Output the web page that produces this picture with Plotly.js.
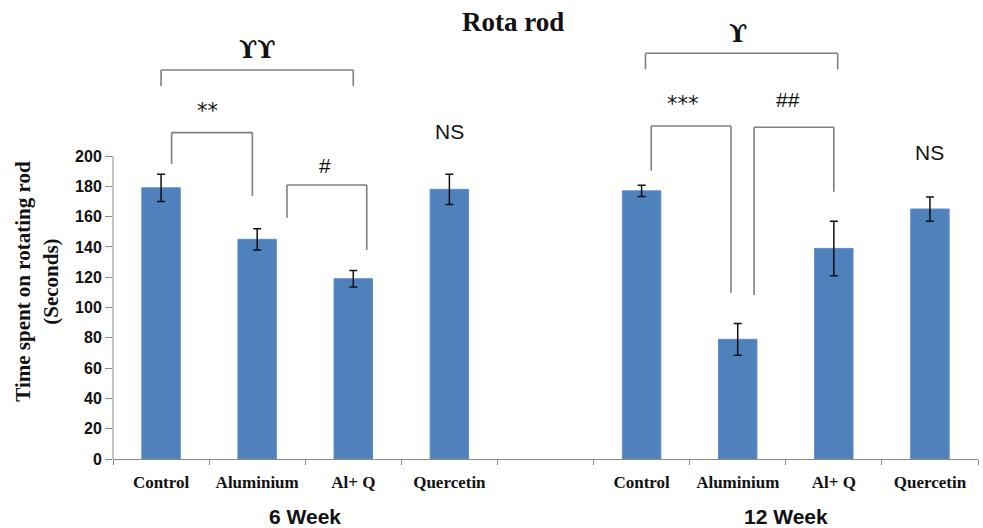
<!DOCTYPE html>
<html><head><meta charset="utf-8">
<script src="https://cdn.plot.ly/plotly-3.0.1.min.js"></script>
<style>body{margin:0;background:#fff}#c{width:983px;height:528px}</style>
</head><body><div id="c"></div>
<script>
const categories = ['Control', 'Aluminium', 'Al+ Q', 'Quercetin'];
const groups = ['6 Week', '12 Week'];
const week6 = [179, 145, 119, 178];
const week6Err = [9, 7, 5.5, 10];
const week12 = [177, 79, 139, 165];
const week12Err = [3.7, 10.5, 18, 8];
const yTicks = [0, 20, 40, 60, 80, 100, 120, 140, 160, 180, 200];

const x6 = categories.map((c, i) => i);
const x12 = categories.map((c, i) => i + 5);
const blue = '#4F81BD';
const grey = '#8a8a8a';
const br = '#7f7f7f';

const errStyle = (arr) => ({type: 'data', array: arr, visible: true, color: '#111', thickness: 1.5, width: 4});
const traces = [
  {type: 'bar', x: x6, y: week6, error_y: errStyle(week6Err), marker: {color: blue, line: {color: '#5b8cc8', width: 1}}, width: 0.4, hoverinfo: 'y'},
  {type: 'bar', x: x12, y: week12, error_y: errStyle(week12Err), marker: {color: blue, line: {color: '#5b8cc8', width: 1}}, width: 0.4, hoverinfo: 'y'}
];

function bracket(xa, xb, ytop, ya, yb) {
  return [
    {type: 'line', xref: 'x', yref: 'y', x0: xa, x1: xb, y0: ytop, y1: ytop, line: {color: br, width: 1.6}},
    {type: 'line', xref: 'x', yref: 'y', x0: xa, x1: xa, y0: ytop, y1: ya, line: {color: br, width: 1.6}},
    {type: 'line', xref: 'x', yref: 'y', x0: xb, x1: xb, y0: ytop, y1: yb, line: {color: br, width: 1.6}}
  ];
}
const shapes = [].concat(
  [{type: 'line', xref: 'paper', yref: 'y', x0: 0, x1: 0, y0: 0, y1: 200, line: {color: grey, width: 1}}],
  bracket(0, 2.0, 256.8, 246.2, 246.2),
  bracket(0.11, 0.95, 215.4, 194.7, 173.6),
  bracket(1.31, 2.14, 180.9, 159.3, 138),
  bracket(5.04, 7.04, 267.8, 257.2, 257.2),
  bracket(5.1, 5.93, 219.8, 190.3, 109.8),
  bracket(6.17, 7.0, 219, 108.3, 176.4)
);

const sans = 'Liberation Sans, Arial, sans-serif';
const starF = 'DejaVu Sans, sans-serif';
const serif = 'Liberation Serif, Times New Roman, serif';
const ups = 'DejaVu Serif, serif';
const annT = (text, x, y, size, fam, bold) => ({text: bold ? '<b>' + text + '</b>' : text, x: x, y: y, xref: 'x', yref: 'y', showarrow: false, font: {family: fam, size: size, color: '#111'}});
const annotations = [
  annT('ϒϒ', 1.0, 270, 24, ups, true),
  annT('**', 0.48, 230, 21, starF, false),
  annT('#', 1.71, 194, 21, sans, false),
  annT('NS', 3, 216.5, 21, sans, false),
  annT('ϒ', 6.0, 281, 24, ups, true),
  annT('***', 5.43, 234, 21, starF, false),
  annT('##', 6.52, 237, 21, sans, false),
  annT('NS', 8, 202, 21, sans, false),
  {text: '<b>' + groups[0] + '</b>', x: 1.5, xref: 'x', y: -0.133, yref: 'paper', yanchor: 'middle', showarrow: false, font: {family: sans, size: 21, color: '#111'}},
  {text: '<b>' + groups[1] + '</b>', x: 6.5, xref: 'x', y: -0.133, yref: 'paper', yanchor: 'middle', showarrow: false, font: {family: sans, size: 21, color: '#111'}},
  {text: '<b>Time spent on rotating rod</b>', textangle: -90, xref: 'paper', x: 0, xshift: -90, xanchor: 'center', yref: 'y', y: 117, showarrow: false, font: {family: serif, size: 21, color: '#111'}},
  {text: '<b>(Seconds)</b>', textangle: -90, xref: 'paper', x: 0, xshift: -62, xanchor: 'center', yref: 'y', y: 117, showarrow: false, font: {family: serif, size: 21, color: '#111'}}
];

const layout = {
  width: 983, height: 528,
  margin: {l: 113, r: 5, t: 30, b: 69},
  paper_bgcolor: '#fff', plot_bgcolor: '#fff',
  showlegend: false,
  bargap: 0,
  title: {text: '<b>Rota rod</b>', x: 0.522, xanchor: 'center', xref: 'container', y: 0.96, yanchor: 'middle', yref: 'container', font: {family: serif, size: 27, color: '#111'}},
  xaxis: {
    range: [-0.5, 8.5], showgrid: false, zeroline: false, showline: true, linecolor: grey, linewidth: 1,
    tickmode: 'array', tickvals: x6.concat(x12), ticktext: categories.concat(categories),
    ticks: '', ticklabelstandoff: 8,
    tickfont: {family: serif, size: 17, color: '#111', weight: 'bold'},
    minor: {tickmode: 'array', tickvals: [-0.5, 0.5, 1.5, 2.5, 3.5, 4.5, 5.5, 6.5, 7.5, 8.5], ticks: 'outside', ticklen: 5, tickcolor: grey, showgrid: false}
  },
  yaxis: {
    range: [0, 200 * 429 / 303], showgrid: false, zeroline: false, showline: false,
    tickmode: 'array', tickvals: yTicks, ticks: 'outside', ticklen: 7, tickcolor: grey,
    tickfont: {family: sans, size: 16, color: '#111', weight: 'bold'}, ticklabelstandoff: 0
  },
  shapes: shapes,
  annotations: annotations
};
Plotly.newPlot('c', traces, layout, {staticPlot: true});
</script></body></html>
